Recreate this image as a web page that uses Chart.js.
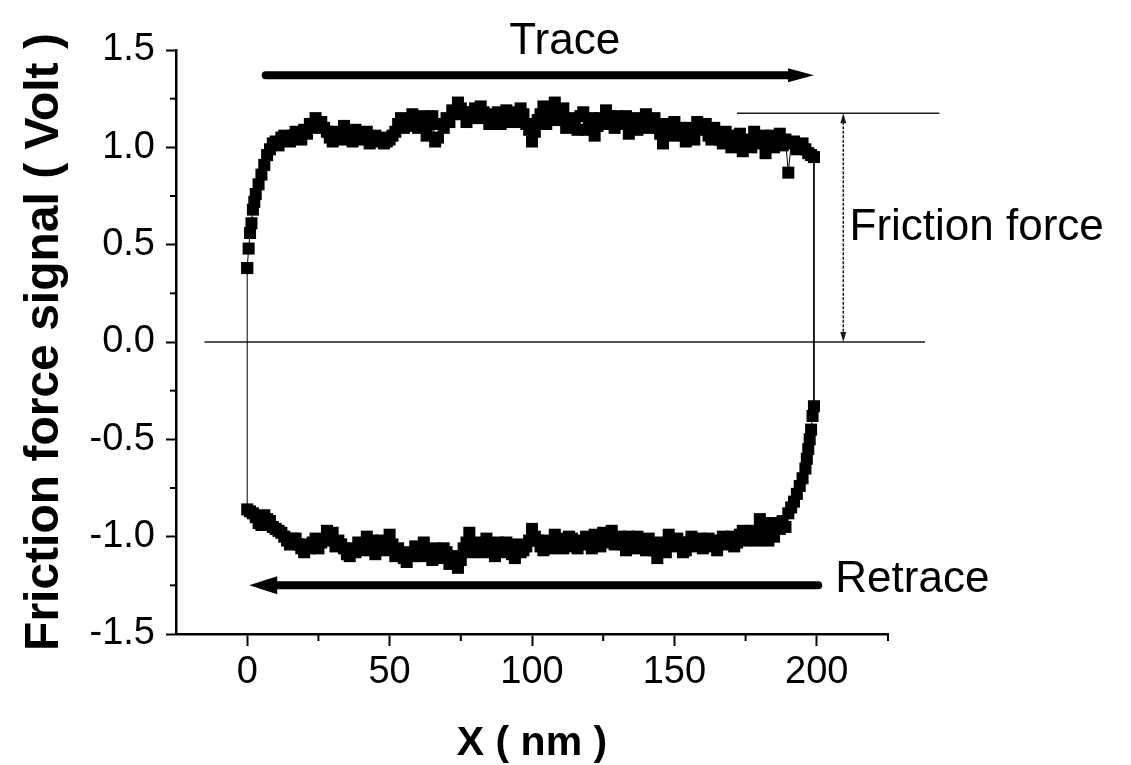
<!DOCTYPE html>
<html>
<head>
<meta charset="utf-8">
<title>Friction force loop</title>
<script src="https://cdn.jsdelivr.net/npm/chart.js@4.4.1/dist/chart.umd.min.js"></script>
<style>
  html, body { margin: 0; padding: 0; background: #fff; }
</style>
</head>
<body>
<canvas id="myChart" width="1131" height="765"></canvas>
<script>
// trace scan (x in nm, signal in Volt)
const traceX = [
  0, 0.5, 1, 1.5, 2, 2.5, 3, 4, 5, 6,
  7, 8, 10, 12, 14, 16, 18, 20, 22, 24,
  26, 28, 30, 32, 34, 36, 38, 40, 42, 44,
  46, 48, 50, 52, 54, 56, 58, 60, 62, 64,
  66, 68, 70, 72, 74, 76, 78, 80, 82, 84,
  86, 88, 90, 92, 94, 96, 98, 100, 102, 104,
  106, 108, 110, 112, 114, 116, 118, 120, 122, 124,
  126, 128, 130, 132, 134, 136, 138, 140, 142, 144,
  146, 148, 150, 152, 154, 156, 158, 160, 162, 164,
  166, 168, 170, 172, 174, 176, 178, 180, 182, 184,
  186, 188, 190, 192, 194, 196, 198, 199,
];
const traceY = [
  0.38, 0.48, 0.56, 0.61, 0.68, 0.72, 0.76, 0.81, 0.86, 0.91,
  0.96, 0.99, 1.03, 1.05, 1.04, 1.06, 1.05, 1.09, 1.12, 1.15,
  1.13, 1.08, 1.03, 1.06, 1.11, 1.05, 1.09, 1.04, 1.08, 1.05,
  1.03, 1.02, 1.04, 1.08, 1.15, 1.13, 1.17, 1.1, 1.16, 1.12,
  1.03, 1.12, 1.15, 1.19, 1.23, 1.18, 1.16, 1.2, 1.21, 1.17,
  1.14, 1.18, 1.16, 1.13, 1.18, 1.2, 1.12, 1.03, 1.14, 1.21,
  1.16, 1.23, 1.18, 1.1, 1.14, 1.09, 1.18, 1.13, 1.06, 1.15,
  1.19, 1.13, 1.16, 1.12, 1.07, 1.15, 1.12, 1.17, 1.13, 1.1,
  1.02, 1.09, 1.13, 1.1, 1.03, 1.07, 1.13, 1.09, 1.06, 1.1,
  1.04, 1.08, 1.0, 1.06, 0.98, 1.04, 1.08, 1.02, 0.97, 1.06,
  1.04, 1.01, 0.87, 1.03, 1.0, 0.99, 0.96, 0.95,
];
// trace readings in between the ones above
const traceX2 = [
  9, 11, 13, 15, 17, 19, 21, 23, 25, 27,
  29, 31, 33, 35, 37, 39, 41, 43, 45, 47,
  49, 51, 53, 55, 57, 59, 61, 63, 65, 67,
  69, 71, 73, 75, 77, 79, 81, 83, 85, 87,
  89, 91, 93, 95, 97, 99, 101, 103, 105, 107,
  109, 111, 113, 115, 117, 119, 121, 123, 125, 127,
  129, 131, 133, 135, 137, 139, 141, 143, 145, 147,
  149, 151, 153, 155, 157, 159, 161, 163, 165, 167,
  169, 171, 173, 175, 177, 179, 181, 183, 185, 187,
  189, 191, 193, 195, 197,
];
const traceY2 = [
  1.02, 1.01, 1.06, 1.03, 1.08, 1.04, 1.07, 1.1, 1.12, 1.1,
  1.05, 1.08, 1.04, 1.08, 1.03, 1.06, 1.07, 1.02, 1.06, 1.05,
  1.03, 1.06, 1.12, 1.1, 1.11, 1.14, 1.12, 1.06, 1.16, 1.05,
  1.1, 1.13, 1.17, 1.2, 1.13, 1.18, 1.15, 1.18, 1.12, 1.16,
  1.12, 1.19, 1.15, 1.13, 1.17, 1.09, 1.08, 1.17, 1.12, 1.19,
  1.14, 1.2, 1.15, 1.11, 1.16, 1.09, 1.15, 1.11, 1.12, 1.16,
  1.1, 1.14, 1.16, 1.11, 1.09, 1.14, 1.1, 1.15, 1.07, 1.12,
  1.06, 1.08, 1.06, 1.1, 1.04, 1.11, 1.12, 1.04, 1.07, 1.02,
  1.05, 1.03, 1.07, 1.02, 1.0, 1.05, 1.06, 1.03, 1.0, 1.07,
  1.04, 1.02, 0.99, 1.02, 0.97,
];

// retrace scan, in scan order (200 nm back to 0)
const retraceX = [
  199, 198.5, 198, 197.5, 197, 196.5, 196, 195, 194, 193,
  192, 191, 190, 188, 186, 184, 182, 180, 178, 176,
  174, 172, 170, 168, 166, 164, 162, 160, 158, 156,
  154, 152, 150, 148, 146, 144, 142, 140, 138, 136,
  134, 132, 130, 128, 126, 124, 122, 120, 118, 116,
  114, 112, 110, 108, 106, 104, 102, 100, 98, 96,
  94, 92, 90, 88, 86, 84, 82, 80, 78, 76,
  74, 72, 70, 68, 66, 64, 62, 60, 58, 56,
  54, 52, 50, 48, 46, 44, 42, 40, 38, 36,
  34, 32, 30, 28, 26, 24, 22, 20, 18, 16,
  14, 12, 10, 8, 6, 4, 2, 0,
];
const retraceY = [
  -0.33, -0.38, -0.45, -0.5, -0.55, -0.6, -0.65, -0.7, -0.74, -0.78,
  -0.82, -0.85, -0.88, -0.92, -0.95, -0.93, -0.99, -0.91, -0.98, -1.01,
  -0.97, -1.03, -1.0, -1.04, -1.02, -1.05, -1.01, -1.06, -1.03, -1.0,
  -1.07, -1.03, -1.05, -0.99, -1.06, -1.11, -1.04, -1.07, -1.02, -1.06,
  -1.0, -1.04, -1.03, -0.97, -1.01, -1.05, -0.99, -1.04, -1.02, -1.06,
  -1.01, -1.05, -1.03, -0.99, -1.04, -1.07, -1.02, -0.96, -1.05, -1.08,
  -1.11, -1.05, -1.08, -1.03, -1.07, -1.01, -1.06, -1.03, -0.98, -1.06,
  -1.16, -1.13, -1.08, -1.11, -1.06, -1.09, -1.03, -1.07, -1.1, -1.13,
  -1.09, -1.1, -0.99, -1.04, -1.06, -1.02, -1.0, -1.05, -1.08, -1.1,
  -1.06, -1.02, -0.98, -0.97, -1.03, -1.01, -1.06, -1.08, -1.04, -1.01,
  -1.02, -0.98, -0.96, -0.92, -0.89, -0.93, -0.88, -0.86,
];
// retrace readings in between the ones above
const retraceX2 = [
  189, 187, 185, 183, 181, 179, 177, 175, 173, 171,
  169, 167, 165, 163, 161, 159, 157, 155, 153, 151,
  149, 147, 145, 143, 141, 139, 137, 135, 133, 131,
  129, 127, 125, 123, 121, 119, 117, 115, 113, 111,
  109, 107, 105, 103, 101, 99, 97, 95, 93, 91,
  89, 87, 85, 83, 81, 79, 77, 75, 73, 71,
  69, 67, 65, 63, 61, 59, 57, 55, 53, 51,
  49, 47, 45, 43, 41, 39, 37, 35, 33, 31,
  29, 27, 25, 23, 21, 19, 17, 15, 13, 11,
  9, 7, 5, 3, 1,
];
const retraceY2 = [
  -0.95, -0.96, -1.0, -1.02, -0.97, -1.02, -0.97, -1.02, -0.99, -1.05,
  -1.02, -1.0, -1.07, -1.03, -1.04, -1.01, -1.05, -1.03, -1.08, -1.01,
  -1.04, -1.08, -1.03, -1.07, -1.01, -1.05, -1.0, -1.04, -1.07, -1.0,
  -1.04, -1.03, -0.98, -1.03, -1.06, -1.0, -1.03, -1.04, -1.0, -1.06,
  -1.01, -1.06, -1.02, -1.05, -1.0, -1.02, -1.07, -1.04, -1.09, -1.03,
  -1.06, -1.1, -1.04, -1.08, -1.04, -1.08, -1.03, -1.12, -1.1, -1.14,
  -1.06, -1.09, -1.12, -1.07, -1.1, -1.05, -1.08, -1.11, -1.06, -1.04,
  -1.07, -1.02, -1.09, -1.05, -1.07, -1.03, -1.06, -1.09, -1.04, -1.05,
  -1.0, -1.02, -1.06, -1.03, -1.04, -1.06, -1.01, -1.04, -1.0, -0.97,
  -0.95, -0.91, -0.94, -0.9, -0.87,
];

const xMajorTicks = [0, 50, 100, 150, 200];
const xMinorTicks = [25, 75, 125, 175, 225];
const yMajorTicks = [-1.5, -1.0, -0.5, 0, 0.5, 1.0, 1.5];
const yMinorTicks = [-1.25, -0.75, -0.25, 0.25, 0.75, 1.25];

const FONT = "'Liberation Sans', Arial, sans-serif";

const toPoints = (xs, ys) => xs.map((x, i) => ({ x, y: ys[i] }));

// the loop: trace left to right, retrace right to left, then back to the start
const tracePoints = [...toPoints(traceX, traceY), ...toPoints(traceX2, traceY2)].sort((a, b) => a.x - b.x);
const retracePoints = [...toPoints(retraceX, retraceY), ...toPoints(retraceX2, retraceY2)].sort((a, b) => b.x - a.x);
const loopPoints = [...tracePoints, ...retracePoints, tracePoints[0]];

const drawLine = (ctx, x1, y1, x2, y2) => {
  ctx.beginPath();
  ctx.moveTo(x1, y1);
  ctx.lineTo(x2, y2);
  ctx.stroke();
};

// filled arrow head with its tip at (tx, ty), pointing along (dx, dy)
const arrowHead = (ctx, tx, ty, dx, dy, len, half) => {
  ctx.beginPath();
  ctx.moveTo(tx, ty);
  ctx.lineTo(tx - dx * len - dy * half, ty - dy * len + dx * half);
  ctx.lineTo(tx - dx * len + dy * half, ty - dy * len - dx * half);
  ctx.closePath();
  ctx.fill();
};

const annotate = {
  id: "annotate",
  beforeDatasetsDraw(chart) {
    const { ctx, scales: { x, y } } = chart;
    ctx.save();
    ctx.strokeStyle = "#1a1a1a";
    ctx.lineWidth = 1.5;
    // zero line
    drawLine(ctx, x.getPixelForValue(-15), y.getPixelForValue(0), x.getPixelForValue(238), y.getPixelForValue(0));
    // level of the trace
    drawLine(ctx, x.getPixelForValue(172), y.getPixelForValue(1.175), x.getPixelForValue(243), y.getPixelForValue(1.175));
    // friction force dimension line
    const fx = x.getPixelForValue(209.3);
    const fTop = y.getPixelForValue(1.175);
    const fBot = y.getPixelForValue(0);
    ctx.setLineDash([3, 1.5]);
    drawLine(ctx, fx, fTop + 4, fx, fBot - 4);
    ctx.setLineDash([]);
    ctx.fillStyle = "#1a1a1a";
    arrowHead(ctx, fx, fTop, 0, -1, 10, 3);
    arrowHead(ctx, fx, fBot, 0, 1, 10, 3);
    ctx.restore();
  },
  afterDatasetsDraw(chart) {
    const { ctx, chartArea, scales: { x, y } } = chart;
    ctx.save();
    ctx.strokeStyle = "#000";
    ctx.fillStyle = "#000";

    // minor ticks
    ctx.lineWidth = 2;
    xMinorTicks.forEach((v) => {
      const px = x.getPixelForValue(v);
      drawLine(ctx, px, chartArea.bottom, px, chartArea.bottom + 7);
    });
    yMinorTicks.forEach((v) => {
      const py = y.getPixelForValue(v);
      drawLine(ctx, chartArea.left, py, chartArea.left - 6, py);
    });

    // Trace arrow
    ctx.lineWidth = 8;
    ctx.lineCap = "round";
    const ty = y.getPixelForValue(1.37);
    const tTip = x.getPixelForValue(199);
    drawLine(ctx, x.getPixelForValue(6.5), ty, tTip - 20, ty);
    arrowHead(ctx, tTip, ty, 1, 0, 26, 7);

    // Retrace arrow
    const ry = y.getPixelForValue(-1.25);
    const rTip = x.getPixelForValue(0.7);
    drawLine(ctx, x.getPixelForValue(200.5), ry, rTip + 20, ry);
    arrowHead(ctx, rTip, ry, -1, 0, 28, 9);

    // labels
    ctx.font = `44px ${FONT}`;
    ctx.textBaseline = "middle";
    ctx.textAlign = "center";
    ctx.fillText("Trace", x.getPixelForValue(111.5), y.getPixelForValue(1.54));
    ctx.textAlign = "left";
    ctx.fillText("Friction force", x.getPixelForValue(211.5), y.getPixelForValue(0.585));
    ctx.fillText("Retrace", x.getPixelForValue(206.5), y.getPixelForValue(-1.22));
    ctx.restore();
  },
};

const ctx = document.getElementById("myChart").getContext("2d");

const myChart = new Chart(ctx, {
  type: "scatter",
  data: {
    datasets: [
      {
        label: "Friction force signal",
        data: loopPoints,
        showLine: true,
        borderColor: "#000",
        borderWidth: 1,
        backgroundColor: "#000",
        pointStyle: "rect",
        pointRadius: 8.5,
        pointBorderWidth: 0,
        pointHoverRadius: 8.5,
      },
    ],
  },
  options: {
    responsive: false,
    animation: false,
    events: [],
    layout: { padding: { top: 50, right: 243, bottom: 0, left: 0 } },
    plugins: {
      legend: { display: false },
      tooltip: { enabled: false },
    },
    scales: {
      x: {
        type: "linear",
        min: -25,
        max: 225,
        afterBuildTicks: (scale) => {
          scale.ticks = xMajorTicks.map((value) => ({ value }));
        },
        afterFit: (scale) => {
          scale.height = 131;
        },
        border: { display: true, color: "#000", width: 2.5 },
        grid: {
          drawOnChartArea: false,
          drawTicks: true,
          tickLength: 12,
          tickColor: "#000",
          tickWidth: 2,
        },
        ticks: {
          autoSkip: false,
          maxRotation: 0,
          padding: 4,
          color: "#000",
          font: { family: FONT, size: 38 },
          callback: (v) => String(v),
        },
        title: {
          display: true,
          text: "X ( nm )",
          color: "#000",
          font: { family: FONT, size: 41, weight: "bold", lineHeight: 1 },
          padding: { top: 0, bottom: 1 },
        },
      },
      y: {
        type: "linear",
        min: -1.5,
        max: 1.5,
        afterBuildTicks: (scale) => {
          scale.ticks = yMajorTicks.map((value) => ({ value }));
        },
        afterFit: (scale) => {
          scale.width = 176;
        },
        border: { display: true, color: "#000", width: 2.5 },
        grid: {
          drawOnChartArea: false,
          drawTicks: true,
          tickLength: 10,
          tickColor: "#000",
          tickWidth: 2,
        },
        ticks: {
          padding: 11,
          color: "#000",
          font: { family: FONT, size: 38 },
          callback: (v) => Number(v).toFixed(1),
        },
        title: {
          display: true,
          text: "Friction force signal ( Volt )",
          color: "#000",
          font: { family: FONT, size: 48, weight: "bold", lineHeight: 1.2 },
          padding: { top: 16, bottom: 0 },
        },
      },
    },
  },
  plugins: [annotate],
});
</script>
</body>
</html>
